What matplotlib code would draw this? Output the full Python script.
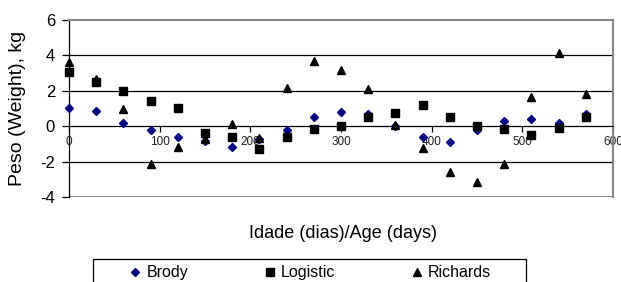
import matplotlib
matplotlib.use('Agg')
import matplotlib.pyplot as plt
import matplotlib.patches as patches
import numpy as np

plt.rcParams['font.family'] = ['Liberation Sans', 'DejaVu Sans']
plt.rcParams['axes.unicode_minus'] = False

days = [0, 30, 60, 90, 120, 150, 180, 210, 240, 270,
        300, 330, 360, 390, 420, 450, 480, 510, 540, 570]
brody = [1.0, 0.86, 0.2, -0.21, -0.62, -0.85, -1.2, -0.73, -0.21, 0.5,
         0.82, 0.68, 0.0, -0.62, -0.9, -0.21, 0.32, 0.41, 0.17, 0.68]
logistic = [3.04, 2.52, 2.0, 1.43, 1.01, -0.36, -0.59, -1.3, -0.62, -0.17,
            0.02, 0.5, 0.73, 1.2, 0.52, 0.03, -0.17, -0.49, -0.08, 0.52]
richards = [3.6, 2.67, 0.98, -2.14, -1.15, -0.73, 0.11, -0.64, 2.16, 3.7,
            3.18, 2.1, 0.07, -1.24, -2.61, -3.18, -2.11, 1.67, 4.15, 1.82]

fig = plt.figure(figsize=(6.21, 2.82), dpi=100)
ax = fig.add_axes([69/621, 1 - 197/282, 544/621, 177/282])

# grid lines
for yv in [-2, 2, 4]:
    ax.axhline(yv, color='black', lw=0.9, zorder=1)
ax.axhline(-4, color='#888888', lw=1.5, zorder=1)

ax.plot(days, brody, linestyle='none', marker='D', ms=4.5, color='#000080',
        label='Brody', zorder=3, clip_on=False)
ax.plot(days, logistic, linestyle='none', marker='s', ms=5.5, color='black',
        label='Logistic', zorder=3, clip_on=False)
ax.plot(days, richards, linestyle='none', marker='^', ms=6, color='black',
        label='Richards', zorder=3, clip_on=False)

ax.set_xlim(0, 600)
ax.set_ylim(-4, 6)
ax.set_xticks(np.arange(0, 601, 100))
ax.set_yticks(np.arange(-4, 7, 2))

ax.spines['bottom'].set_position(('data', 0))
ax.spines['bottom'].set_color('black')
ax.spines['bottom'].set_linewidth(0.9)
ax.spines['left'].set_color('black')
ax.spines['left'].set_linewidth(0.9)
for s in ['top', 'right']:
    ax.spines[s].set_color('#888888')
    ax.spines[s].set_linewidth(1.5)

ax.tick_params(axis='x', direction='out', length=4, width=0.9, labelsize=8.5,
               pad=3, labelcolor='#222222')
ax.tick_params(axis='y', direction='out', length=5, width=0.9, labelsize=12, pad=5)

ax.set_ylabel('Peso (Weight), kg', fontsize=14)
ax.yaxis.set_label_coords(-43/544, 0.5)
fig.text(343/621, 1 - 233/282, 'Idade (dias)/Age (days)', fontsize=13,
         ha='center', va='center')

# legend frame (cut by the bottom edge like the original)
fig.patches.append(patches.Rectangle((92.7/621, -0.1), 433/621, 0.1 + 1 - 259.3/282,
                                     transform=fig.transFigure, fill=False,
                                     edgecolor='black', lw=0.9))
fig.legend(loc='center', bbox_to_anchor=(309/621, 1 - 272.7/282), ncol=3,
           fontsize=11.5, frameon=False, borderaxespad=0, handletextpad=0.2,
           handlelength=1.0, columnspacing=4.6, borderpad=0)

fig.savefig('out.png', dpi=100)
